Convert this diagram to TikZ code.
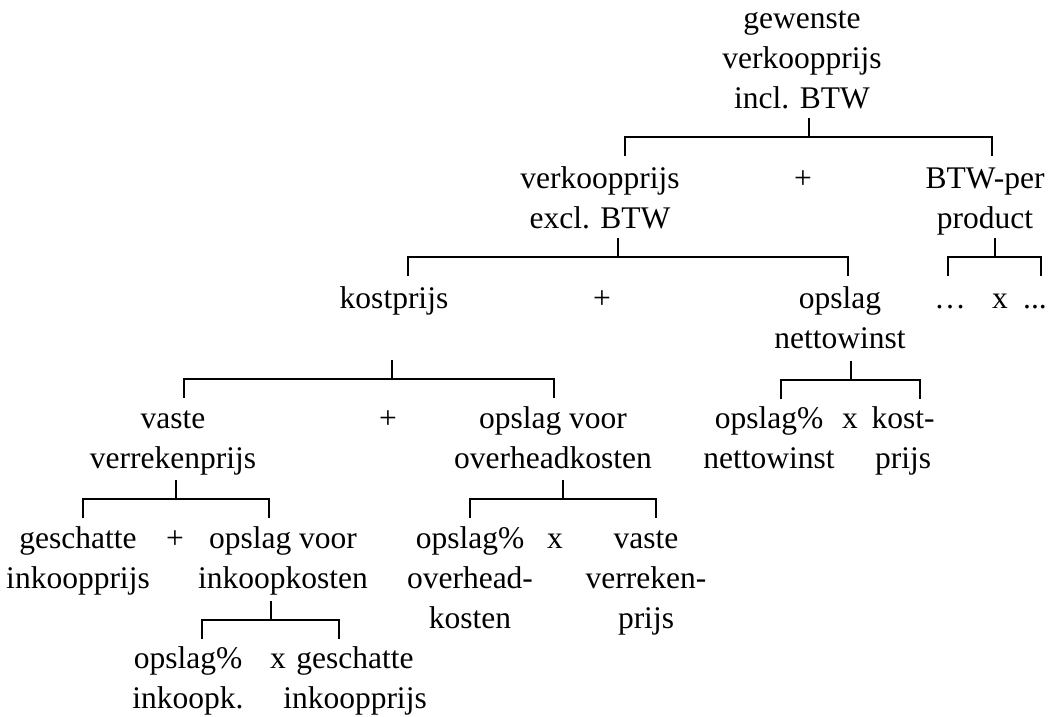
\documentclass[tikz,border=0pt]{standalone}
\usepackage{fontspec}
\setmainfont{Liberation Serif}
\tikzset{
  term/.style={anchor=base, inner sep=0pt, align=center, font=\fontsize{31.5}{40}\selectfont},
  bar/.style={line width=2.8pt}
}
\begin{document}
\begin{tikzpicture}[x=1pt,y=-1pt]

\useasboundingbox (0,0) rectangle (1049,717);

% level 1 (base = last line)
\node[term] (vkincl) at (802,108) {gewenste\\verkoopprijs\\incl. BTW};

% level 2
\node[term] (vkexcl) at (600,228) {verkoopprijs\\excl. BTW};
\node[term] (plusa) at (803,188) {+};
\node[term] (btw) at (985,228) {BTW-per\\product};

% level 3
\node[term] (kostprijs) at (394,308) {kostprijs};
\node[term] (plusb) at (602,308) {+};
\node[term] (opslagnet) at (840,348) {opslag\\nettowinst};
\node[term] (dotsa) at (950,308) {…};
\node[term] (timesa) at (1000,308) {x};
\node[term] (dotsb) at (1035,308) {...};

% level 4
\node[term] (vvp) at (173,468) {vaste\\verrekenprijs};
\node[term] (plusc) at (388,428) {+};
\node[term] (opslagovh) at (553,468) {opslag voor\\overheadkosten};
\node[term] (pctnet) at (769,468) {opslag\%\\nettowinst};
\node[term] (timesb) at (850,428) {x};
\node[term] (kostp) at (903,468) {kost-\\prijs};

% level 5
\node[term] (inkprijs) at (78,588) {geschatte\\inkoopprijs};
\node[term] (plusd) at (175,548) {+};
\node[term] (opslagink) at (283,588) {opslag voor\\inkoopkosten};
\node[term] (pctovh) at (470,628) {opslag\%\\overhead-\\kosten};
\node[term] (timesc) at (555,548) {x};
\node[term] (vvpb) at (646,628) {vaste\\verreken-\\prijs};

% level 6
\node[term] (pctink) at (188,708) {opslag\%\\inkoopk.};
\node[term] (timesd) at (278,668) {x};
\node[term] (inkprijsb) at (355,708) {geschatte\\inkoopprijs};

% brackets: stem top, bar middle, left and right foot
\foreach \n/\xl/\xm/\xr/\yt in {1/625/809/992/118, 2/408/618/848/238,
    3/948/995/1041/238, 4/184/392/554/360, 5/781/851/920/361,
    6/83/176/269/480, 7/470/563/656/480, 8/202/271/339/601}{
  \coordinate (s\n) at (\xm,\yt);
  \coordinate (m\n) at (\xm,\yt+19);
  \coordinate (l\n) at (\xl,\yt+38);
  \coordinate (r\n) at (\xr,\yt+38);
}
\foreach \n in {1,...,8}
  \draw[bar] (s\n) -- (m\n) (l\n) |- (m\n) -| (r\n);

\end{tikzpicture}
\end{document}
